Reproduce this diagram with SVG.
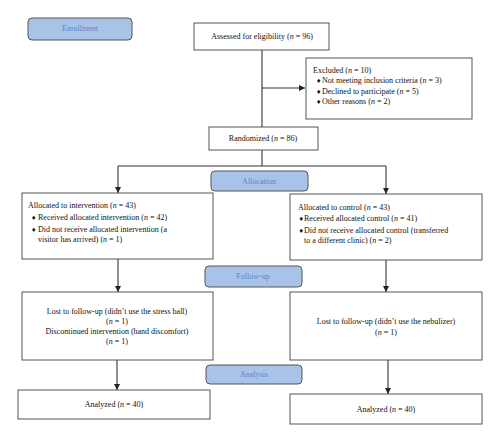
<svg xmlns="http://www.w3.org/2000/svg" width="500" height="442" viewBox="0 0 500 442">
<style>
.box{fill:#fff;stroke:#555;stroke-width:1}
.phase{fill:#a9c3e8;stroke:#555;stroke-width:1}
.t{font-family:"Liberation Serif","Times New Roman",serif;font-size:8px;fill:#111}
.pt{font-family:"Liberation Serif","Times New Roman",serif;font-size:8px;fill:#5b83c9}
.c{text-anchor:middle}
.b{font-family:"DejaVu Sans",sans-serif;font-size:6px;fill:#111}
.ln{fill:none;stroke:#333;stroke-width:1.1}
</style>
<defs>
<marker id="ah" viewBox="0 0 8 8" refX="8" refY="4" markerWidth="6" markerHeight="6" orient="auto" markerUnits="userSpaceOnUse">
<path d="M0,0 L8,4 L0,8 Z" fill="#222"/>
</marker>
</defs>
<g id="connectors">
<line class="ln" x1="262" y1="50" x2="262" y2="127"/>
<line class="ln" x1="262" y1="88" x2="305" y2="88" marker-end="url(#ah)"/>
<line class="ln" x1="262" y1="150" x2="262" y2="166"/>
<polyline class="ln" points="118,166 386,166"/>
<line class="ln" x1="118" y1="166" x2="118" y2="193" marker-end="url(#ah)"/>
<line class="ln" x1="386" y1="166" x2="386" y2="194" marker-end="url(#ah)"/>
<line class="ln" x1="118" y1="259" x2="118" y2="292" marker-end="url(#ah)"/>
<line class="ln" x1="386" y1="260" x2="386" y2="292" marker-end="url(#ah)"/>
<line class="ln" x1="117" y1="360" x2="117" y2="390" marker-end="url(#ah)"/>
<line class="ln" x1="388" y1="360" x2="388" y2="394" marker-end="url(#ah)"/>
</g>
<g id="enrollment">
<rect class="phase" x="28" y="18" width="104" height="22" rx="4"/>
<text class="pt c" x="80" y="31">Enrollment</text>
</g>
<g id="assessed">
<rect class="box" x="194" y="23" width="135" height="27"/>
<text class="t c" x="262" y="39">Assessed for eligibility (<tspan font-style="italic">n</tspan> = 96)</text>
</g>
<g id="excluded">
<rect class="box" x="306" y="58" width="166" height="61"/>
<text class="t" x="313" y="73">Excluded (<tspan font-style="italic">n</tspan> = 10)</text>
<text class="b" x="316" y="83">♦</text>
<text class="t" x="322" y="83">Not meeting inclusion criteria (<tspan font-style="italic">n</tspan> = 3)</text>
<text class="b" x="316" y="94">♦</text>
<text class="t" x="322" y="94">Declined to participate (<tspan font-style="italic">n</tspan> = 5)</text>
<text class="b" x="316" y="104">♦</text>
<text class="t" x="322" y="104">Other reasons (<tspan font-style="italic">n</tspan> = 2)</text>
</g>
<g id="randomized">
<rect class="box" x="209" y="127" width="109" height="23"/>
<text class="t c" x="263" y="141">Randomized (<tspan font-style="italic">n</tspan> = 86)</text>
</g>
<g id="allocation">
<rect class="phase" x="211" y="171" width="97" height="20" rx="4"/>
<text class="pt c" x="259" y="184">Allocation</text>
</g>
<g id="alloc-intervention">
<rect class="box" x="22" y="193" width="191" height="66"/>
<text class="t" x="28" y="208">Allocated to intervention (<tspan font-style="italic">n</tspan> = 43)</text>
<text class="b" x="31" y="220">♦</text>
<text class="t" x="38" y="220">Received allocated intervention (<tspan font-style="italic">n</tspan> = 42)</text>
<text class="b" x="31" y="232">♦</text>
<text class="t" x="38" y="232">Did not receive allocated intervention (a</text>
<text class="t" x="38" y="242">visitor has arrived) (<tspan font-style="italic">n</tspan> = 1)</text>
</g>
<g id="alloc-control">
<rect class="box" x="290" y="194" width="192" height="66"/>
<text class="t" x="298" y="210">Allocated to control (<tspan font-style="italic">n</tspan> = 43)</text>
<text class="b" x="298.5" y="221">♦</text>
<text class="t" x="304" y="221">Received allocated control (<tspan font-style="italic">n</tspan> = 41)</text>
<text class="b" x="298.5" y="233">♦</text>
<text class="t" x="304" y="233">Did not receive allocated control (transferred</text>
<text class="t" x="304" y="243">to a different clinic) (<tspan font-style="italic">n</tspan> = 2)</text>
</g>
<g id="followup">
<rect class="phase" x="205" y="266" width="97" height="21" rx="4"/>
<text class="pt c" x="253" y="279">Follow-up</text>
</g>
<g id="lost-intervention">
<rect class="box" x="22" y="292" width="191" height="68"/>
<text class="t c" x="117" y="314">Lost to follow-up (didn’t use the stress ball)</text>
<text class="t c" x="117" y="324">(<tspan font-style="italic">n</tspan> = 1)</text>
<text class="t c" x="117" y="334">Discontinued intervention (hand discomfort)</text>
<text class="t c" x="117" y="344">(<tspan font-style="italic">n</tspan> = 1)</text>
</g>
<g id="lost-control">
<rect class="box" x="290" y="292" width="192" height="68"/>
<text class="t c" x="386" y="324">Lost to follow-up (didn’t use the nebulizer)</text>
<text class="t c" x="386" y="335">(<tspan font-style="italic">n</tspan> = 1)</text>
</g>
<g id="analysis">
<rect class="phase" x="206" y="365" width="96" height="19" rx="4"/>
<text class="pt c" x="254" y="377">Analysis</text>
</g>
<g id="analyzed-intervention">
<rect class="box" x="18" y="390" width="192" height="29"/>
<text class="t c" x="114" y="407">Analyzed (<tspan font-style="italic">n</tspan> = 40)</text>
</g>
<g id="analyzed-control">
<rect class="box" x="290" y="394" width="192" height="30"/>
<text class="t c" x="386" y="412">Analyzed (<tspan font-style="italic">n</tspan> = 40)</text>
</g>
</svg>
